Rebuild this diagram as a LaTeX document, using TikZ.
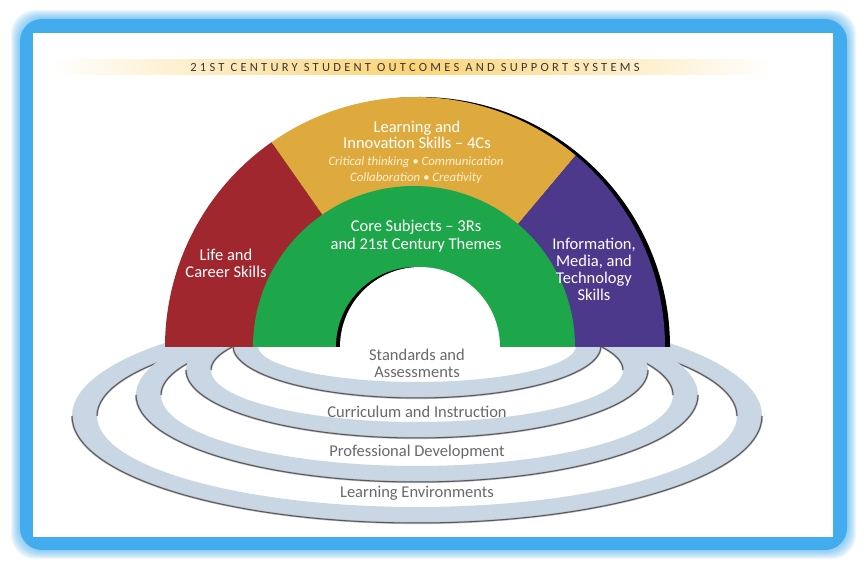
\documentclass[tikz,border=0pt]{standalone}
\usepackage{fontspec}
\setmainfont{Carlito}
\usetikzlibrary{calc}
\definecolor{redsk}{RGB}{160,39,45}
\definecolor{goldsk}{RGB}{222,170,62}
\definecolor{greensk}{RGB}{30,166,74}
\definecolor{purpsk}{RGB}{76,57,140}
\definecolor{ringsk}{RGB}{201,214,228}
\definecolor{ringline}{RGB}{85,88,95}
\definecolor{framesk}{RGB}{66,172,238}
\definecolor{titlesk}{RGB}{251,212,118}
\definecolor{creamsk}{RGB}{255,240,205}
\definecolor{ringtext}{RGB}{105,105,108}
\begin{document}
\begin{tikzpicture}[x=1pt,y=1pt,
  archtxt/.style={text=white, align=center, inner sep=0pt, font=\fontsize{16.5}{17}\selectfont},
  ringtxt/.style={text=ringtext, align=center, inner sep=0pt, font=\fontsize{16.5}{17}\selectfont},
  ringband/.style={fill=ringsk, even odd rule},
  ringedge/.style={draw=ringline, line width=1pt},
  ringsoft/.style={draw=ringline!40, line width=2.2pt}]
\useasboundingbox (0,0) rectangle (866,572);
\fill[white] (0,0) rectangle (866,572);
% blurred blue frame
\foreach \i in {1,...,9}{
  \fill[framesk, opacity=0.085, rounded corners=24pt] (20-\i,22-\i) rectangle (847+\i,553+\i);
}
\fill[framesk, rounded corners=22pt] (20,22) rectangle (847,553);
\fill[white] (33,35) rectangle (833,539);
% title band
\shade[left color=white, right color=white, middle color=titlesk] (50,497) rectangle (773,512);
\node[inner sep=0pt, text=black!78, font=\fontsize{12.5}{14}\selectfont\addfontfeatures{LetterSpace=26}] (title) at (415,504.5) {21ST CENTURY STUDENT OUTCOMES AND SUPPORT SYSTEMS};
% rings (outermost first)
\foreach \cy/\rx/\ry in {156/345/107, 177/281/87, 202/231/68, 226/184/52}{
  \fill[ringband] (417,\cy) ellipse[x radius=\rx, y radius=\ry] (417,\cy) ellipse[x radius=\rx-25, y radius=\ry-16];
  \draw[ringsoft] (417-\rx,\cy) arc[start angle=180, end angle=360, x radius=\rx, y radius=\ry];
  \draw[ringedge] (417-\rx,\cy) arc[start angle=180, end angle=360, x radius=\rx, y radius=\ry];
  \draw[ringsoft] (417+\rx-25,\cy) arc[start angle=0, end angle=180, x radius=\rx-25, y radius=\ry-16];
  \draw[ringedge] (417+\rx-25,\cy) arc[start angle=0, end angle=180, x radius=\rx-25, y radius=\ry-16];
}
% arch
\fill[black] (670,225) arc[start angle=0, end angle=180, radius=250] -- cycle;
\fill[redsk] (415,225) -- (165,225) arc[start angle=180, end angle=125, radius=250] -- cycle;
\fill[goldsk] (415,225) -- ++(125:250) arc[start angle=125, end angle=50, radius=250] -- cycle;
\fill[purpsk] (415,225) -- ++(50:250) arc[start angle=50, end angle=0, radius=250] -- cycle;
\fill[greensk] (575,225) arc[start angle=0, end angle=180, radius=161] -- cycle;
\fill[black] (496,225) arc[start angle=0, end angle=180, radius=80] -- cycle;
\fill[white] (500,225) arc[start angle=0, end angle=180, radius=80] -- cycle;
% arch texts
\node[archtxt, font=\fontsize{16.5}{16}\selectfont] (lis) at (417,437) {Learning and\\Innovation Skills -- 4Cs};
\node[archtxt, text=creamsk, font=\itshape\fontsize{12.8}{16}\selectfont] (lis2) at (416,402) {Critical thinking • Communication\\Collaboration • Creativity};
\node[archtxt, font=\fontsize{16.5}{18}\selectfont] (core) at (416,336) {Core Subjects -- 3Rs\\and 21st Century Themes};
\node[archtxt] (life) at (226,308.5) {Life and\\Career Skills};
\node[archtxt] (imt) at (594,303) {Information,\\Media, and\\Technology\\Skills};
% ring texts
\node[ringtxt] (sa) at (417,208.5) {Standards and\\Assessments};
\node[ringtxt] (ci) at (417,160) {Curriculum and Instruction};
\node[ringtxt] (pd) at (417,120) {Professional Development};
\node[ringtxt] (le) at (417,79) {Learning Environments};
\end{tikzpicture}
\end{document}
